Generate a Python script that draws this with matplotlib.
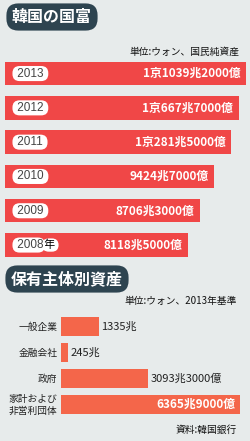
import numpy as np
import matplotlib
matplotlib.use('Agg')
import matplotlib.pyplot as plt

plt.rcParams['font.family'] = ['Noto Sans CJK JP', 'DejaVu Sans']

# 韓国の国富 (兆ウォン)
years = ['2013', '2012', '2011', '2010', '2009', '2008']
wealth = [11039.2, 10667.7, 10281.5, 9424.7, 8706.3, 8118.5]
wealth_labels = ['1京1039兆2000億', '1京667兆7000億', '1京281兆5000億',
                 '9424兆7000億', '8706兆3000億', '8118兆5000億']

# 保有主体別資産 (兆ウォン, 2013)
owners = ['一般企業', '金融会社', '政府', '家計および\n非営利団体']
assets = [1335, 245, 3093.3, 6365.9]
asset_labels = ['1335兆', '245兆', '3093兆3000億', '6365兆9000億']

BG = '#e7ebeb'
RED = '#f04747'
ORANGE = '#f4664a'
DARK = '#2e4450'

W, H = 250, 441
fig = plt.figure(figsize=(W / 100, H / 100), dpi=100, facecolor=BG)


def px_axes(x0, y0, x1, y1):
    return fig.add_axes([x0 / W, 1 - y1 / H, (x1 - x0) / W, (y1 - y0) / H])


def pill(x, y, s, size):
    fig.text(x / W, 1 - y / H, s, color='white', fontsize=size, fontweight='bold',
             ha='left', va='center',
             bbox=dict(boxstyle='round,pad=0.35,rounding_size=0.75', fc=DARK, ec='none'))


# ---- top chart
pill(12, 17, '韓国の国富', 11.5)
fig.text(239 / W, 1 - 52 / H, '単位:ウォン、国民純資産', fontsize=7, ha='right', va='center', color='#111')

ax = px_axes(5, 56.4, 250, 262.2)
x0 = -1109
ypos = np.arange(len(years))
ax.barh(ypos, np.array(wealth) - x0, left=x0, height=0.68, color=RED)
ax.set_xlim(x0, x0 + 245 * 50.4)
ax.set_ylim(len(years) - 0.5, -0.5)
ax.axis('off')
pill_box = dict(boxstyle='round,pad=0.13,rounding_size=0.6', fc='white', ec='none')
for i, (yr, v, lab) in enumerate(zip(years, wealth, wealth_labels)):
    ax.annotate(lab, (v, i), xytext=(-4, 0), textcoords='offset points',
                ha='right', va='center', color='white', fontsize=8.5, fontweight='bold')
    last = yr == years[-1]
    t = ax.text(9 / 245, i, ' ' + yr + ('' if last else ' '), transform=ax.get_yaxis_transform(),
                ha='left', va='center', color='#444', fontsize=8.5,
                family='Liberation Sans', bbox=pill_box, zorder=4)
    if last:
        # 年 sits under the year text so its pill does not clip the last digit
        ax.annotate('年 ', xy=(1, 0.5), xycoords=t, ha='left', va='center',
                    color='black', fontsize=8, bbox=pill_box, zorder=2.5)

# ---- bottom chart
pill(11, 279, '保有主体別資産', 11.5)
fig.text(237 / W, 1 - 301 / H, '単位:ウォン、2013年基準', fontsize=7, ha='right', va='center', color='#111')

ax2 = px_axes(61, 313.5, 245, 417.5)
ypos2 = np.arange(len(owners))
ax2.barh(ypos2, assets, height=0.73, color=ORANGE)
ax2.set_xlim(0, 184 * 35.5)
ax2.set_ylim(len(owners) - 0.5, -0.5)
ax2.axis('off')
for i, (name, v, lab) in enumerate(zip(owners, assets, asset_labels)):
    ax2.annotate(name, (0, i), xytext=(-2.5, 0), textcoords='offset points',
                 ha='right', va='center', fontsize=7, color='#222', linespacing=1.25)
    if v > 5000:
        ax2.annotate(lab, (v, i), xytext=(-3.5, 0), textcoords='offset points',
                     ha='right', va='center', color='white', fontsize=8.5, fontweight='bold')
    else:
        ax2.annotate(lab, (v, i), xytext=(2, 0), textcoords='offset points',
                     ha='left', va='center', color='#222', fontsize=8)

fig.text(237 / W, 1 - 430 / H, '資料:韓国銀行', fontsize=7, ha='right', va='center', color='#111')

fig.savefig('out.png', dpi=100, facecolor=BG)
